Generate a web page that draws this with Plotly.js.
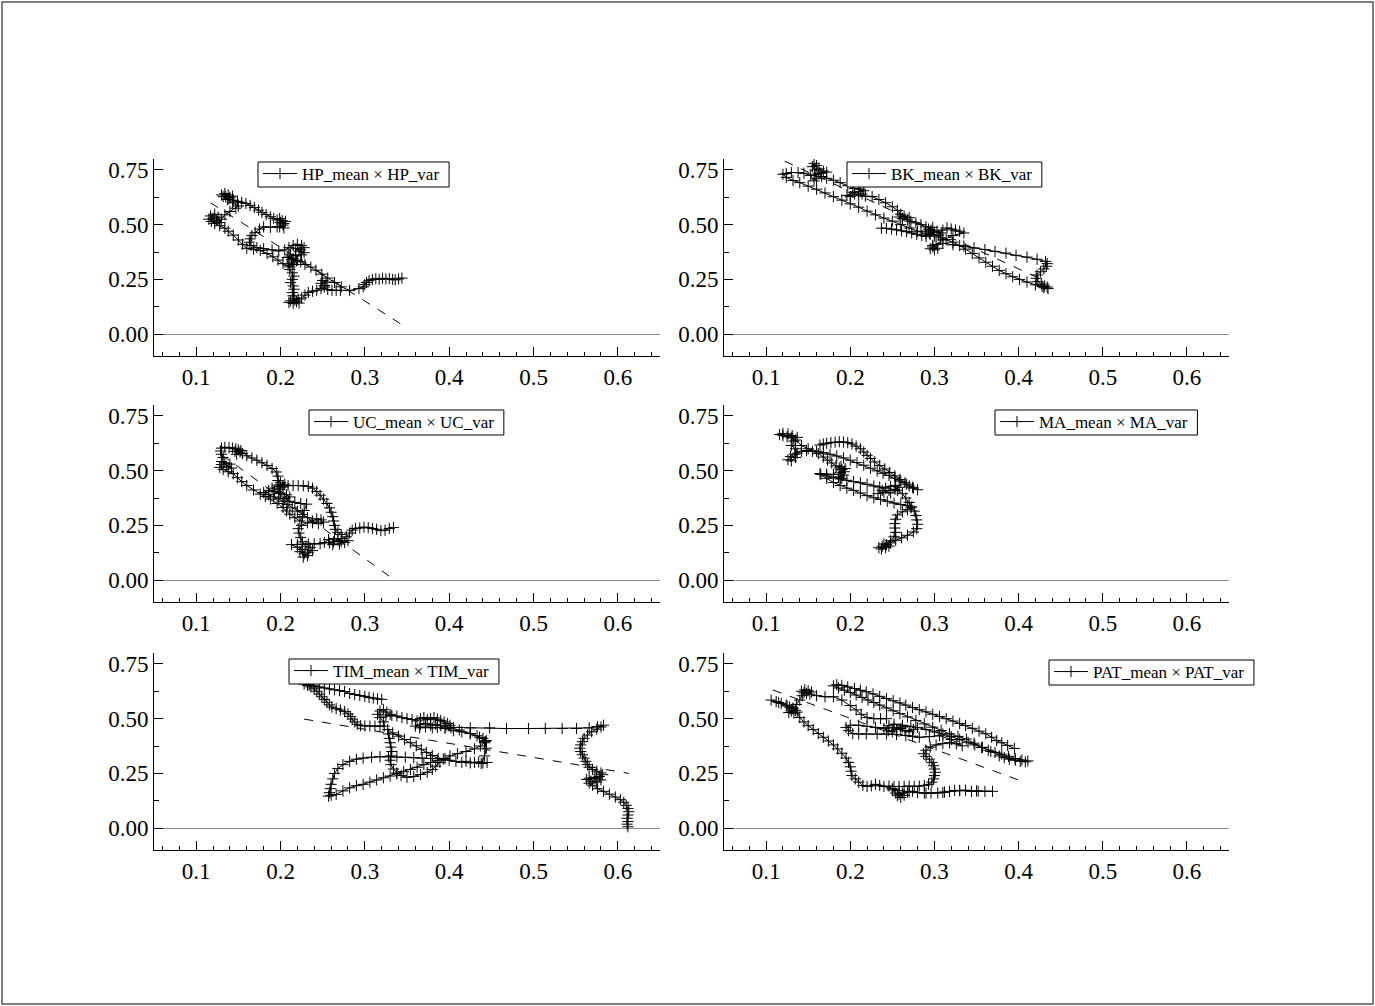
<!DOCTYPE html>
<html><head><meta charset="utf-8">
<script src="https://cdn.plot.ly/plotly-3.0.1.min.js"></script>
<style>html,body{margin:0;padding:0;background:#fff}#chart{width:1375px;height:1006px}</style>
</head><body><div id="chart"></div>
<script>
// Each series: list of [mean, var] points
const HP = [
[0.344,0.256],[0.340,0.252],[0.336,0.248],[0.333,0.250],[0.329,0.254],[0.325,0.252],[0.321,0.255],[0.317,0.250],[0.313,0.253],[0.309,0.250],[0.305,0.244],[0.302,0.236],[0.300,0.226],[0.298,0.216],[0.293,0.208],[0.282,0.199],
[0.272,0.216],[0.264,0.236],[0.256,0.256],[0.249,0.274],[0.242,0.292],[0.236,0.306],[0.229,0.318],[0.224,0.330],
[0.220,0.338],[0.215,0.345],[0.210,0.352],
[0.216,0.318],[0.211,0.307],[0.203,0.322],[0.197,0.338],[0.191,0.353],[0.184,0.368],[0.176,0.382],[0.168,0.388],[0.160,0.392],[0.155,0.410],[0.150,0.430],[0.144,0.452],[0.138,0.470],[0.134,0.484],
[0.128,0.495],[0.122,0.505],[0.118,0.515],[0.115,0.525],[0.120,0.530],[0.117,0.540],[0.122,0.548],[0.126,0.535],[0.124,0.520],[0.128,0.510],[0.130,0.525],
[0.134,0.545],[0.140,0.560],[0.147,0.575],[0.150,0.585],[0.143,0.600],[0.137,0.615],[0.132,0.628],[0.130,0.636],[0.134,0.642],[0.138,0.636],[0.135,0.628],[0.140,0.625],[0.143,0.630],[0.139,0.618],[0.144,0.612],
[0.149,0.607],[0.154,0.602],[0.159,0.597],[0.164,0.588],[0.169,0.578],[0.174,0.566],[0.178,0.556],[0.183,0.546],[0.188,0.536],[0.192,0.528],[0.196,0.522],
[0.199,0.528],[0.202,0.518],[0.200,0.510],[0.204,0.505],[0.206,0.515],[0.203,0.498],[0.199,0.490],[0.204,0.485],
[0.196,0.490],[0.188,0.488],[0.180,0.490],[0.175,0.480],[0.170,0.465],[0.166,0.450],[0.164,0.435],[0.163,0.420],[0.165,0.405],[0.172,0.395],[0.180,0.390],[0.190,0.385],[0.198,0.380],[0.205,0.385],
[0.210,0.395],[0.215,0.405],[0.220,0.410],[0.225,0.405],[0.228,0.395],[0.224,0.385],[0.218,0.390],[0.222,0.378],[0.228,0.372],[0.225,0.362],[0.218,0.358],[0.212,0.362],[0.208,0.350],[0.213,0.340],[0.219,0.335],[0.214,0.325],[0.209,0.315],
[0.211,0.295],[0.214,0.280],[0.216,0.265],[0.214,0.250],[0.212,0.235],[0.215,0.220],[0.216,0.205],[0.214,0.190],[0.215,0.175],[0.216,0.162],
[0.212,0.152],[0.210,0.145],[0.215,0.140],[0.219,0.148],[0.222,0.142],[0.217,0.155],[0.221,0.160],[0.225,0.165],
[0.229,0.178],[0.233,0.190],[0.238,0.196],[0.243,0.200],[0.248,0.208],[0.252,0.222],[0.254,0.238],[0.250,0.245],[0.248,0.232],[0.252,0.215],[0.256,0.204],[0.261,0.200],[0.266,0.200],[0.271,0.200]
];
const HP_fit = [[0.117,0.600],[0.342,0.048]];

const BK = [
[0.237,0.484],[0.243,0.483],[0.249,0.480],[0.255,0.476],[0.261,0.472],[0.267,0.468],[0.273,0.462],[0.279,0.456],[0.285,0.450],[0.290,0.446],
[0.295,0.455],[0.300,0.465],[0.296,0.475],[0.303,0.470],[0.308,0.462],[0.305,0.452],[0.310,0.475],[0.315,0.485],[0.320,0.480],[0.325,0.475],[0.330,0.470],[0.335,0.462],
[0.322,0.450],[0.310,0.430],[0.302,0.410],[0.298,0.398],[0.295,0.390],[0.300,0.385],[0.304,0.392],[0.298,0.405],
[0.310,0.415],[0.322,0.408],[0.335,0.402],[0.347,0.394],[0.360,0.386],[0.372,0.378],[0.385,0.370],[0.397,0.360],[0.410,0.352],[0.422,0.342],[0.432,0.332],
[0.434,0.322],[0.433,0.310],[0.430,0.298],[0.426,0.285],[0.422,0.270],[0.421,0.255],[0.423,0.240],[0.427,0.228],[0.431,0.220],[0.434,0.215],[0.430,0.212],[0.435,0.208],[0.428,0.218],
[0.420,0.225],[0.410,0.238],[0.401,0.250],[0.393,0.262],[0.385,0.276],[0.377,0.291],[0.369,0.310],[0.361,0.328],[0.353,0.348],[0.345,0.368],[0.337,0.388],[0.330,0.405],[0.322,0.420],[0.314,0.432],
[0.307,0.440],[0.300,0.452],[0.294,0.460],[0.289,0.470],[0.293,0.480],[0.298,0.488],[0.290,0.490],
[0.284,0.500],[0.278,0.508],[0.272,0.515],[0.268,0.522],[0.262,0.528],[0.258,0.535],[0.264,0.540],[0.270,0.532],[0.260,0.548],[0.256,0.565],[0.250,0.582],[0.242,0.600],[0.234,0.615],[0.226,0.628],
[0.218,0.630],[0.214,0.640],[0.210,0.632],[0.205,0.640],[0.200,0.628],[0.196,0.634],[0.203,0.648],[0.210,0.650],[0.216,0.655],[0.212,0.662],[0.205,0.665],
[0.197,0.678],[0.188,0.692],[0.180,0.703],[0.172,0.712],
[0.166,0.720],[0.162,0.735],[0.158,0.750],[0.155,0.765],[0.157,0.780],[0.160,0.770],[0.163,0.755],[0.168,0.745],[0.172,0.740],[0.165,0.735],[0.158,0.728],[0.160,0.710],[0.157,0.700],[0.153,0.725],
[0.145,0.735],[0.138,0.738],[0.130,0.738],[0.124,0.734],[0.120,0.730],
[0.124,0.716],[0.132,0.702],[0.140,0.692],[0.150,0.676],[0.160,0.662],[0.170,0.645],[0.180,0.628],[0.190,0.612],[0.200,0.595],[0.210,0.580],[0.220,0.562],[0.230,0.545],[0.240,0.530],[0.250,0.516],[0.260,0.500],[0.270,0.485],[0.280,0.470],[0.290,0.458],[0.300,0.448]
];
const BK_fit = [[0.122,0.790],[0.430,0.245]];

const UC = [
[0.334,0.240],[0.329,0.236],[0.324,0.228],[0.319,0.226],[0.314,0.232],[0.309,0.236],[0.304,0.240],[0.299,0.242],[0.294,0.238],[0.289,0.236],[0.285,0.228],[0.282,0.215],
[0.278,0.198],[0.273,0.190],[0.268,0.182],[0.263,0.175],[0.258,0.170],[0.262,0.162],[0.270,0.165],[0.276,0.172],[0.280,0.180],[0.272,0.176],[0.264,0.190],[0.257,0.185],[0.252,0.172],[0.247,0.166],
[0.240,0.166],[0.233,0.165],[0.226,0.164],[0.220,0.163],[0.213,0.162],
[0.220,0.150],[0.226,0.140],[0.223,0.130],[0.228,0.120],[0.232,0.112],[0.227,0.105],[0.233,0.125],[0.238,0.135],[0.235,0.148],[0.230,0.155],
[0.226,0.175],[0.224,0.195],[0.222,0.215],[0.221,0.235],[0.225,0.250],[0.232,0.262],
[0.238,0.270],[0.243,0.280],[0.248,0.275],[0.251,0.265],[0.245,0.258],[0.238,0.262],
[0.232,0.285],[0.226,0.300],[0.220,0.315],[0.214,0.330],[0.208,0.345],[0.203,0.360],
[0.198,0.372],[0.192,0.380],[0.186,0.390],[0.180,0.400],[0.186,0.410],[0.193,0.405],[0.200,0.398],[0.207,0.390],[0.211,0.380],[0.205,0.372],[0.198,0.395],[0.190,0.420],[0.196,0.430],[0.203,0.425],[0.199,0.415],
[0.210,0.360],[0.217,0.355],[0.224,0.350],[0.231,0.347],
[0.228,0.318],[0.226,0.290],[0.223,0.270],
[0.217,0.285],[0.211,0.301],[0.207,0.316],[0.203,0.332],[0.196,0.350],[0.188,0.370],[0.182,0.382],[0.176,0.393],[0.168,0.412],[0.160,0.432],[0.154,0.450],[0.149,0.468],[0.144,0.486],
[0.138,0.495],[0.132,0.505],[0.128,0.515],[0.130,0.528],[0.134,0.536],[0.140,0.530],[0.136,0.520],[0.142,0.512],[0.130,0.542],
[0.132,0.560],[0.130,0.575],[0.129,0.590],[0.130,0.603],
[0.134,0.607],[0.139,0.605],[0.143,0.603],[0.147,0.600],[0.150,0.595],[0.146,0.588],[0.152,0.585],[0.155,0.578],[0.148,0.575],[0.153,0.592],
[0.160,0.568],[0.166,0.558],[0.172,0.548],[0.178,0.536],[0.184,0.524],[0.190,0.510],[0.195,0.494],[0.197,0.475],[0.197,0.455],
[0.200,0.445],[0.205,0.438],[0.198,0.435],[0.203,0.430],
[0.209,0.432],[0.215,0.432],[0.221,0.432],[0.227,0.431],[0.233,0.428],[0.238,0.420],[0.243,0.405],[0.247,0.388],[0.251,0.370],[0.255,0.350],[0.258,0.330],[0.260,0.310],[0.262,0.290],[0.263,0.270],[0.264,0.250],[0.265,0.232],[0.268,0.218],[0.272,0.208]
];
const UC_fit = [[0.130,0.573],[0.330,0.015]];

const MA = [
[0.164,0.617],[0.168,0.622],[0.172,0.625],[0.177,0.628],[0.182,0.630],[0.187,0.632],[0.192,0.631],[0.197,0.628],[0.202,0.622],[0.207,0.612],[0.212,0.600],[0.216,0.585],[0.220,0.570],[0.224,0.556],[0.229,0.540],[0.235,0.524],[0.241,0.508],[0.247,0.492],[0.253,0.476],[0.259,0.460],[0.265,0.445],[0.270,0.430],[0.275,0.420],[0.280,0.413],
[0.274,0.424],[0.267,0.438],[0.260,0.452],[0.253,0.466],[0.246,0.478],[0.239,0.488],[0.232,0.499],[0.224,0.511],[0.216,0.525],[0.208,0.537],[0.200,0.548],[0.192,0.558],[0.184,0.567],[0.176,0.575],[0.168,0.582],[0.160,0.588],[0.150,0.600],[0.142,0.615],
[0.135,0.640],[0.130,0.650],[0.125,0.655],[0.120,0.660],[0.116,0.665],[0.120,0.670],[0.126,0.668],[0.131,0.660],[0.137,0.652],
[0.133,0.635],[0.130,0.615],[0.135,0.600],[0.137,0.580],[0.135,0.560],[0.130,0.545],[0.126,0.550],[0.129,0.565],[0.134,0.575],
[0.142,0.588],[0.148,0.592],[0.155,0.588],[0.162,0.578],[0.168,0.562],[0.173,0.548],[0.178,0.535],[0.183,0.522],[0.187,0.512],
[0.190,0.505],[0.193,0.495],[0.188,0.490],[0.192,0.480],[0.186,0.472],[0.190,0.465],[0.194,0.510],[0.189,0.520],
[0.180,0.482],[0.172,0.484],[0.164,0.487],
[0.172,0.476],[0.180,0.468],[0.188,0.462],[0.196,0.456],[0.204,0.450],[0.212,0.445],[0.220,0.438],[0.228,0.430],[0.235,0.425],
[0.242,0.420],[0.248,0.428],[0.254,0.432],[0.258,0.424],[0.253,0.415],[0.246,0.410],[0.240,0.400],[0.233,0.395],[0.238,0.410],[0.248,0.398],[0.256,0.410],
[0.262,0.395],[0.266,0.375],[0.270,0.355],[0.273,0.335],[0.276,0.315],[0.278,0.295],[0.279,0.275],[0.280,0.255],[0.279,0.235],[0.275,0.220],[0.268,0.205],[0.261,0.193],[0.254,0.182],[0.248,0.170],
[0.243,0.162],[0.238,0.155],[0.234,0.148],[0.237,0.142],[0.242,0.148],[0.246,0.155],[0.240,0.165],
[0.248,0.180],[0.252,0.198],[0.254,0.218],[0.253,0.238],[0.253,0.258],[0.254,0.278],[0.256,0.298],[0.262,0.312],[0.268,0.322],[0.272,0.330],[0.268,0.340],
[0.260,0.345],[0.252,0.352],[0.244,0.360],[0.236,0.368],[0.228,0.376],[0.220,0.386],[0.212,0.398],[0.204,0.410],[0.196,0.420],[0.188,0.432],[0.180,0.446],[0.172,0.465],[0.165,0.482]
];

const TIM = [
[0.320,0.588],[0.315,0.590],[0.310,0.594],[0.305,0.597],[0.300,0.602],[0.294,0.606],[0.288,0.610],[0.282,0.615],[0.276,0.624],[0.270,0.628],[0.264,0.632],[0.258,0.636],[0.252,0.640],[0.246,0.645],[0.240,0.650],[0.234,0.654],[0.228,0.658],
[0.232,0.652],[0.236,0.645],[0.240,0.636],[0.243,0.625],[0.246,0.612],[0.249,0.600],[0.252,0.588],[0.255,0.575],[0.258,0.563],[0.261,0.553],[0.266,0.546],[0.271,0.540],[0.276,0.532],[0.280,0.522],[0.283,0.510],[0.285,0.498],[0.288,0.485],[0.291,0.474],[0.295,0.468],
[0.300,0.467],[0.306,0.466],[0.312,0.466],[0.318,0.466],[0.323,0.466],
[0.322,0.485],[0.318,0.505],[0.315,0.520],[0.318,0.535],[0.322,0.542],[0.326,0.530],[0.330,0.520],[0.325,0.512],
[0.332,0.515],[0.338,0.512],[0.344,0.505],[0.350,0.500],[0.356,0.496],[0.362,0.490],[0.366,0.500],[0.370,0.505],[0.374,0.495],[0.378,0.500],[0.382,0.505],[0.386,0.498],[0.390,0.492],[0.394,0.485],[0.398,0.478],[0.401,0.470],[0.396,0.462],[0.390,0.468],[0.384,0.474],[0.378,0.470],[0.372,0.478],[0.366,0.472],[0.360,0.466],[0.365,0.458],[0.372,0.462],[0.380,0.458],[0.386,0.460],
[0.395,0.455],[0.405,0.445],[0.415,0.440],[0.425,0.432],[0.433,0.422],[0.440,0.410],[0.444,0.400],[0.442,0.390],[0.437,0.375],[0.430,0.362],[0.420,0.350],[0.410,0.340],[0.401,0.330],[0.395,0.318],[0.389,0.300],[0.384,0.283],[0.380,0.268],[0.374,0.255],[0.366,0.245],[0.358,0.236],[0.350,0.232],[0.343,0.240],[0.338,0.252],[0.334,0.270],[0.331,0.290],[0.330,0.310],[0.331,0.330],[0.332,0.350],[0.331,0.370],[0.330,0.390],[0.329,0.410],[0.328,0.430],[0.327,0.450],
[0.333,0.435],[0.340,0.420],[0.347,0.405],[0.354,0.390],[0.361,0.376],[0.367,0.360],[0.373,0.346],[0.380,0.332],[0.387,0.318],
[0.378,0.318],[0.368,0.320],[0.358,0.322],[0.348,0.324],[0.338,0.325],[0.328,0.326],[0.318,0.326],[0.308,0.324],[0.298,0.320],[0.290,0.315],
[0.282,0.305],[0.274,0.290],[0.268,0.272],[0.264,0.250],[0.262,0.225],[0.260,0.200],[0.259,0.180],[0.258,0.162],[0.257,0.146],[0.260,0.150],[0.266,0.154],
[0.274,0.170],[0.282,0.184],[0.290,0.194],[0.298,0.200],[0.306,0.210],[0.314,0.220],[0.322,0.230],[0.330,0.238],[0.338,0.248],[0.346,0.258],[0.354,0.268],[0.362,0.278],[0.370,0.290],[0.378,0.300],[0.386,0.310],[0.393,0.315],
[0.400,0.310],[0.408,0.305],[0.415,0.300],[0.420,0.305],[0.425,0.298],[0.430,0.300],[0.435,0.302],[0.440,0.298],[0.445,0.300],[0.438,0.295],
[0.442,0.330],[0.444,0.365],[0.443,0.395],[0.436,0.415],[0.425,0.432],[0.412,0.448],[0.402,0.458],
[0.405,0.460],[0.425,0.458],[0.448,0.458],[0.468,0.455],[0.494,0.455],[0.514,0.455],[0.534,0.455],[0.551,0.455],[0.566,0.458],[0.576,0.464],[0.583,0.470],[0.580,0.462],
[0.575,0.452],[0.569,0.440],[0.564,0.425],[0.560,0.410],[0.558,0.395],[0.556,0.380],[0.555,0.365],[0.556,0.350],[0.558,0.335],[0.560,0.320],[0.562,0.305],[0.564,0.290],[0.566,0.278],[0.570,0.268],[0.575,0.260],[0.580,0.252],[0.582,0.244],[0.578,0.236],[0.572,0.232],[0.566,0.228],[0.563,0.222],[0.568,0.214],[0.575,0.210],[0.580,0.220],[0.574,0.228],[0.566,0.205],[0.570,0.196],[0.576,0.180],[0.583,0.168],[0.590,0.155],[0.597,0.142],[0.603,0.130],[0.607,0.118],[0.610,0.104],[0.612,0.090],[0.613,0.075],[0.612,0.060],[0.611,0.045],[0.612,0.030],[0.611,0.018],[0.612,0.006]
];
const TIM_fit = [[0.228,0.498],[0.613,0.250]];

const PAT = [
[0.395,0.364],[0.387,0.378],[0.380,0.390],[0.374,0.400],[0.368,0.415],[0.361,0.431],[0.353,0.443],[0.345,0.456],[0.337,0.469],[0.330,0.478],[0.322,0.489],[0.314,0.500],[0.306,0.510],[0.298,0.520],[0.290,0.531],[0.282,0.541],[0.274,0.551],[0.266,0.562],[0.259,0.572],[0.251,0.582],[0.243,0.592],[0.235,0.602],[0.227,0.613],[0.219,0.623],[0.212,0.630],[0.205,0.638],[0.197,0.645],[0.190,0.652],[0.184,0.655],[0.180,0.650],
[0.186,0.640],[0.193,0.630],[0.200,0.620],[0.207,0.608],[0.214,0.597],[0.221,0.585],[0.228,0.574],[0.235,0.562],[0.243,0.549],[0.251,0.536],[0.259,0.523],[0.268,0.508],[0.278,0.492],[0.288,0.476],[0.298,0.461],[0.308,0.446],[0.318,0.431],[0.328,0.419],[0.338,0.407],[0.347,0.388],[0.357,0.369],[0.367,0.350],[0.377,0.330],[0.383,0.322],[0.389,0.315],[0.396,0.310],[0.402,0.305],[0.408,0.303],[0.411,0.307],[0.404,0.311],
[0.396,0.318],[0.388,0.328],[0.380,0.338],[0.372,0.346],[0.364,0.356],[0.356,0.368],[0.348,0.380],[0.340,0.392],[0.330,0.405],[0.320,0.418],[0.310,0.430],[0.300,0.440],[0.290,0.450],
[0.280,0.460],[0.275,0.450],[0.270,0.440],[0.265,0.445],[0.260,0.455],[0.255,0.450],[0.250,0.440],[0.245,0.445],[0.240,0.455],[0.246,0.468],[0.252,0.475],[0.262,0.470],[0.272,0.465],[0.262,0.462],[0.252,0.458],
[0.230,0.460],[0.220,0.465],[0.210,0.470],[0.200,0.470],[0.195,0.460],[0.198,0.445],[0.203,0.432],[0.210,0.430],[0.219,0.430],[0.232,0.430],[0.243,0.430],[0.255,0.428],[0.266,0.423],[0.274,0.420],[0.282,0.415],[0.294,0.418],[0.306,0.422],[0.320,0.405],[0.333,0.376],
[0.326,0.385],[0.318,0.390],[0.310,0.386],[0.302,0.380],[0.295,0.370],[0.290,0.356],[0.287,0.340],[0.290,0.328],[0.294,0.315],[0.297,0.300],[0.299,0.285],[0.300,0.270],[0.301,0.255],[0.300,0.240],[0.299,0.225],[0.297,0.210],
[0.293,0.200],[0.288,0.195],[0.282,0.192],[0.276,0.190],[0.270,0.192],[0.264,0.190],[0.258,0.190],[0.252,0.190],[0.246,0.192],
[0.250,0.175],[0.254,0.160],[0.256,0.148],[0.260,0.140],[0.264,0.150],[0.258,0.155],[0.262,0.160],
[0.268,0.165],[0.274,0.168],[0.280,0.162],[0.288,0.160],[0.296,0.160],[0.304,0.160],[0.312,0.165],[0.318,0.168],[0.324,0.172],[0.330,0.172],[0.337,0.173],[0.344,0.168],[0.352,0.168],[0.360,0.168],[0.369,0.168],
[0.350,0.170],[0.330,0.171],[0.310,0.163],[0.290,0.160],[0.270,0.166],[0.258,0.172],[0.250,0.180],[0.240,0.190],
[0.235,0.195],[0.230,0.200],[0.225,0.193],[0.220,0.190],[0.215,0.195],[0.210,0.210],
[0.206,0.225],[0.202,0.240],[0.201,0.260],[0.200,0.280],[0.198,0.300],[0.195,0.320],[0.190,0.342],[0.185,0.362],[0.180,0.380],[0.174,0.398],[0.168,0.415],[0.162,0.432],[0.156,0.450],[0.150,0.468],[0.145,0.485],[0.140,0.505],
[0.137,0.530],[0.133,0.525],[0.127,0.528],[0.130,0.535],[0.135,0.538],
[0.132,0.545],[0.128,0.553],[0.124,0.562],[0.118,0.570],[0.112,0.578],[0.106,0.585],
[0.115,0.574],[0.125,0.558],[0.132,0.548],
[0.136,0.565],[0.140,0.585],[0.143,0.605],[0.145,0.618],
[0.142,0.625],[0.146,0.632],[0.150,0.628],[0.154,0.622],[0.148,0.616],[0.152,0.612],
[0.160,0.605],[0.170,0.600],[0.180,0.600],[0.190,0.585],[0.200,0.560],[0.207,0.540],[0.213,0.520],[0.220,0.505],[0.228,0.500],[0.236,0.500],[0.243,0.500]
];
const PAT_fit = [[0.108,0.631],[0.409,0.207]];

const labels = ['HP', 'BK', 'UC', 'MA', 'TIM', 'PAT'];
const seriesData = [HP, BK, UC, MA, TIM, PAT];
const fitData = [HP_fit, BK_fit, UC_fit, null, TIM_fit, PAT_fit];
const xTicks = [0.1, 0.2, 0.3, 0.4, 0.5, 0.6];
const yTicks = [0, 0.25, 0.5, 0.75];

// layout geometry (pixels of a 1375x1006 page)
const W = 1375, H = 1006;
const colPx = [[154, 660], [724, 1229]];
const rowPx = [[159, 356], [405, 602], [653, 850]];
// legend box: left edge, top edge (px)
const legendPx = [[258, 162], [847, 162], [309, 410], [995, 410], [289, 659], [1049, 660]];
const LEG_H = 25;

const FONT = 'Liberation Serif';
const LEG_FONT = 17;
const ctx = document.createElement('canvas').getContext('2d');
ctx.font = LEG_FONT + 'px "Liberation Serif"';

const traces = [];
const shapes = [{type: 'rect', xref: 'paper', yref: 'paper', x0: 2/W, x1: 1373/W, y0: 1 - 1004/H, y1: 1 - 2/H,
               line: {color: '#555', width: 1.5}}];
const layout = {
  width: W, height: H,
  margin: {l: 0, r: 0, t: 0, b: 0},
  paper_bgcolor: 'white', plot_bgcolor: 'white',
  font: {family: FONT, color: 'black', size: 23},
  showlegend: true,
  hovermode: false,
  shapes: shapes
};

labels.forEach((lab, i) => {
  const s = i === 0 ? '' : String(i + 1);
  const col = i % 2, row = Math.floor(i / 2);
  const pts = seriesData[i];
  const name = lab + '_mean \u00d7 ' + lab + '_var';
  traces.push({
    x: pts.map(p => p[0]), y: pts.map(p => p[1]),
    mode: 'lines+markers', type: 'scatter',
    name: name,
    xaxis: 'x' + s, yaxis: 'y' + s, legend: 'legend' + s,
    line: {color: 'black', width: 1},
    marker: {symbol: 'cross-thin', size: 8, color: 'black', line: {color: 'black', width: 1}}
  });
  if (fitData[i]) {
    traces.push({
      x: fitData[i].map(p => p[0]), y: fitData[i].map(p => p[1]),
      mode: 'lines', type: 'scatter', showlegend: false,
      xaxis: 'x' + s, yaxis: 'y' + s,
      line: {color: 'black', width: 1, dash: 'dash'}
    });
  }
  layout['xaxis' + s] = {
    domain: [colPx[col][0] / W, colPx[col][1] / W], anchor: 'y' + s,
    range: [0.05, 0.65], tickmode: 'array', tickvals: xTicks, ticktext: xTicks.map(v => v.toFixed(1)),
    ticks: 'inside', ticklen: 9, tickwidth: 1, tickcolor: 'black',
    minor: {tickmode: 'linear', tick0: 0, dtick: 0.02, ticks: 'inside', ticklen: 4, tickcolor: 'black', tickwidth: 1},
    showline: true, linecolor: 'black', linewidth: 1, mirror: false,
    showgrid: false, zeroline: false,
    tickfont: {family: FONT, size: 23, color: 'black'}
  };
  layout['yaxis' + s] = {
    domain: [1 - rowPx[row][1] / H, 1 - rowPx[row][0] / H], anchor: 'x' + s,
    range: [-0.1, 0.8], tickmode: 'array', tickvals: yTicks, ticktext: yTicks.map(v => v.toFixed(2)),
    ticks: 'inside', ticklen: 9, tickwidth: 1, tickcolor: 'black',
    minor: {tickmode: 'linear', tick0: 0, dtick: 0.125, ticks: 'inside', ticklen: 5, tickcolor: 'black', tickwidth: 1},
    showline: true, linecolor: 'black', linewidth: 1, mirror: false,
    showgrid: false, zeroline: true, zerolinecolor: '#8c8c8c', zerolinewidth: 1,
    tickfont: {family: FONT, size: 23, color: 'black'}
  };
  // legend text (transparent legend) placed inside a compact framed box drawn as a shape
  layout['legend' + s] = {
    x: legendPx[i][0] / W, y: 1 - (legendPx[i][1] - 6) / H, xref: 'paper', yref: 'paper',
    xanchor: 'left', yanchor: 'top',
    bgcolor: 'rgba(0,0,0,0)', borderwidth: 0,
    font: {family: FONT, size: LEG_FONT, color: 'black'}, itemwidth: 34
  };
  const textW = ctx.measureText(name).width;
  const left = legendPx[i][0], top = legendPx[i][1];
  const right = left + 44 + textW + 10;
  shapes.push({type: 'rect', xref: 'paper', yref: 'paper', layer: 'above',
    x0: left / W, x1: right / W, y0: 1 - (top + LEG_H) / H, y1: 1 - top / H,
    fillcolor: 'white', line: {color: 'black', width: 1}});
});

Plotly.newPlot('chart', traces, layout, {staticPlot: true, displayModeBar: false});
</script>
</body></html>
